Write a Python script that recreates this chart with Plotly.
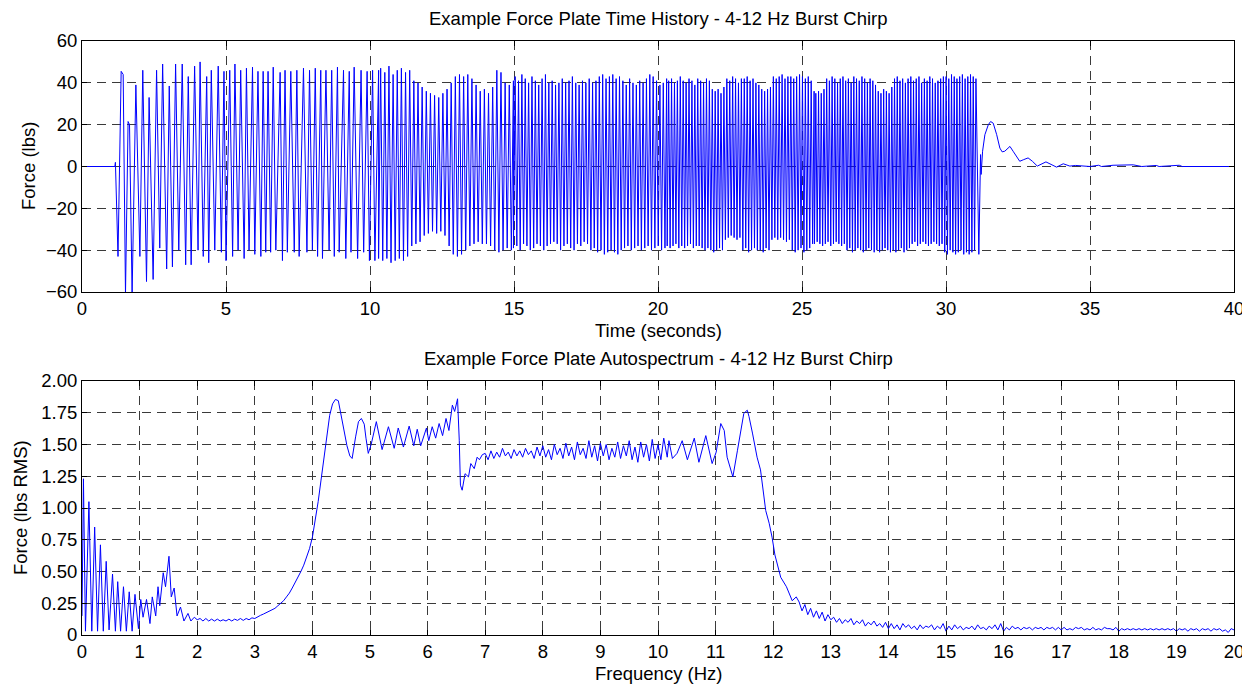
import numpy as np
import plotly.graph_objects as go

# ---------------- Top panel: force time history (s, lbs) ----------------
# quiet lead-in
t_lead = [0.0, 1.14, 1.16]
f_lead = [0, 0, 2]

# individual cycle extremes, 1.2 s - 10.3 s
t_early = [1.25, 1.36, 1.43, 1.51, 1.60, 1.65, 1.74, 1.87, 2.01, 2.11, 2.24, 2.33, 2.47, 2.59,
           2.70, 2.80, 2.94, 3.03, 3.14, 3.25, 3.36, 3.48, 3.60, 3.69, 3.79, 3.91, 4.03, 4.10,
           4.21, 4.33, 4.40, 4.49, 4.61, 4.73, 4.84, 4.93, 5.00, 5.13, 5.23, 5.31, 5.42, 5.51,
           5.63, 5.71, 5.80, 5.92, 6.00, 6.11, 6.21, 6.29, 6.38, 6.46, 6.55, 6.64, 6.73, 6.88,
           6.96, 7.05, 7.13, 7.25, 7.37, 7.46, 7.54, 7.69, 7.81, 7.90, 8.00, 8.10, 8.18, 8.29,
           8.35, 8.47, 8.58, 8.67, 8.76, 8.87, 8.93, 9.08, 9.16, 9.28, 9.34, 9.45, 9.57, 9.69,
           9.78, 9.90, 9.98, 10.09, 10.17, 10.30]
f_early = [-43, 45.5, 44, -61, 21.5, 20, -61, 39, -43, 46, -55, 33, -54, 46,
           -39, 49, -49, 38.5, -48, 49, -40, 49, -47, 43, -47, 48, -40, 50,
           -43, 43, -46, 46, -40, 48, -41, 45.5, -45, 46, -43, 49, -40, 46,
           -44, 47, -40, 47.5, -42, 45.5, -43, 45.5, -41, 45.5, -41, 47.5, -40, 45,
           -45, 46, -41, 45.5, -41, 46, -43, 47, -41, 46, -40, 47, -43, 46,
           -44, 46, -40, 46, -43, 47.5, -41, 46, -44, 45.5, -41, 47.5, -44, 46,
           -41, 45.5, -45, 46, -45, 46]

# dense part: per-cycle (trough, peak) values, cycles evenly spaced within each stretch
span_b1 = (10.37, 14.98)
troughs_b1 = [-44, -45, -44, -46, -45, -44, -45, -43, -38, -37, -36, -33, -32, -31, -32, -31, -33,
              -38, -42, -43, -42, -40, -38, -37, -36, -37, -37, -38, -40, -41, -40, -39, -40]
peaks_b1 = [47, 45, 48, 44, 46, 47, 45, 46, 41, 40, 38, 36, 35, 34, 33, 35, 37,
            40, 43, 44, 43, 44, 42, 39, 36, 37, 35, 38, 46, 45, 40, 39, 41]

span_b2 = (15.04, 20.30)
troughs_b2 = [-39, -38, -40, -37, -38, -40, -39, -37, -38, -40, -38, -37, -36, -37, -40, -38,
              -37, -39, -40, -37, -38, -36, -37, -40, -39, -41, -40, -42, -41, -40, -41, -42,
              -40, -39, -38, -40, -39, -38, -40, -39, -38, -40, -39, -38, -40, -39]
peaks_b2 = [43, 41, 44, 42, 40, 43, 41, 39, 42, 44, 40, 41, 39, 40, 42, 40,
            41, 43, 40, 39, 41, 40, 42, 40, 41, 43, 44, 42, 43, 44, 42, 43,
            41, 39, 42, 40, 39, 41, 40, 42, 44, 43, 41, 39, 40, 42]

span_c1 = (20.37, 25.42)
troughs_c1 = [-38, -39, -38, -37, -39, -38, -39, -38, -37, -39, -38, -38, -39, -40, -39,
              -40, -41, -40, -39, -40,
              -35, -34, -33, -34, -35, -34,
              -40, -39, -41, -40, -39, -40,
              -40, -41, -39, -40,
              -35, -34, -35, -34, -35, -36, -35,
              -40, -41, -40, -39, -41, -40, -39,
              -37]
peaks_c1 = [41, 42, 40, 41, 43, 41, 40, 42, 41, 39, 42, 41, 40, 42, 41,
            37, 36, 37, 35, 38,
            42, 41, 43, 42, 40, 42,
            42, 43, 41, 42, 40, 39,
            37, 36, 37, 38,
            43, 42, 43, 44, 42, 43, 43,
            42, 43, 44, 43, 42, 43, 41,
            36]

span_c2 = (25.48, 31.04)
troughs_c2 = [-37, -36, -37, -38,
              -37, -36, -38, -37, -36, -37, -38, -37,
              -40, -39, -41, -40, -39, -40, -41, -40, -39, -40, -41,
              -40, -41, -40, -39, -40, -41,
              -40, -41, -40, -39, -41, -40, -39,
              -37, -36, -38, -37, -36, -37, -38, -37, -36, -37, -38, -37,
              -41, -42, -40, -41, -42, -41, -40, -42, -41, -42, -41, -40]
peaks_c2 = [35, 36, 35, 37,
            42, 41, 43, 42, 40, 42, 43, 41, 42, 40, 43, 42, 41, 43, 42, 40, 42, 41, 39,
            36, 35, 37, 36, 35, 38,
            42, 43, 41, 42, 40, 42, 43, 41, 42, 43, 40, 42, 41, 43, 42, 40, 41, 42, 43,
            43, 42, 44, 43, 42, 43, 44, 42, 43, 44, 43, 42]

# end of burst and decay
t_tail = [31.14, 31.20, 31.22, 31.27, 31.35, 31.47, 31.55, 31.64, 31.76, 31.87, 31.95, 32.04,
          32.22, 32.33, 32.56, 32.70, 32.85, 33.00, 33.17, 33.47, 33.66, 33.84, 34.07, 34.30,
          34.50, 35.00, 35.30, 35.40, 35.80, 36.20, 36.50, 36.80, 37.30, 37.40, 38.10, 38.20,
          39.00, 40.00]
f_tail = [-42, 5.7, -3.8, 7.3, 15.2, 20.0, 21.5, 20.7, 15.2, 8.8, 7.0, 7.3,
          9.6, 7.3, 2.5, 3.3, 4.1, 2.5, 0.2, 2.2, 1.0, -0.3, 1.3, 0.2,
          0.5, 0.0, 0.6, 0.0, 0.6, 0.6, 0.8, 0.0, 0.5, 0.0, 0.6, 0.0,
          0.0, 0.0]

time_ticks = [0, 5, 10, 15, 20, 25, 30, 35, 40]
force_ticks = [-60, -40, -20, 0, 20, 40, 60]

# ---------------- Bottom panel: autospectrum (Hz, lbs RMS) ----------------
freq_low = [0, 0.025, 0.06, 0.12, 0.17, 0.22, 0.27, 0.32, 0.37, 0.42, 0.47, 0.53, 0.58, 0.62,
            0.67, 0.72, 0.77, 0.82, 0.87, 0.92, 0.98, 1.02, 1.06, 1.12, 1.18, 1.22, 1.28, 1.32,
            1.35, 1.41, 1.45, 1.51, 1.55, 1.60, 1.65, 1.71, 1.77, 1.84, 1.89, 1.95]
amp_low = [0.15, 1.23, 0.03, 1.05, 0.03, 0.85, 0.03, 0.71, 0.03, 0.58, 0.04, 0.48, 0.03, 0.42,
           0.03, 0.38, 0.03, 0.34, 0.03, 0.32, 0.05, 0.28, 0.14, 0.28, 0.09, 0.30, 0.15, 0.38,
           0.23, 0.49, 0.38, 0.62, 0.30, 0.37, 0.15, 0.22, 0.11, 0.17, 0.11, 0.14]

flat_span = (2.00, 3.00)   # 0.05 Hz steps
amp_flat = [0.12, 0.13, 0.11, 0.13, 0.11, 0.125, 0.11, 0.125, 0.11, 0.12, 0.11, 0.125, 0.11,
            0.125, 0.115, 0.13, 0.115, 0.13, 0.12, 0.135, 0.13]

rise_span = (3.05, 4.00)
amp_rise = [0.145, 0.155, 0.165, 0.175, 0.19, 0.20, 0.21, 0.23, 0.25, 0.27, 0.30, 0.33, 0.37,
            0.41, 0.45, 0.50, 0.55, 0.61, 0.68, 0.77]

freq_mid = [4.05, 4.10, 4.15, 4.20, 4.25, 4.30, 4.35, 4.40, 4.45, 4.49, 4.55, 4.60, 4.65, 4.69,
            4.75, 4.80, 4.85, 4.90, 4.93, 4.97, 5.02, 5.11, 5.21, 5.32, 5.42, 5.49, 5.58, 5.68,
            5.76, 5.82, 5.88, 5.98, 6.02, 6.08, 6.14, 6.20, 6.26, 6.32, 6.37, 6.43, 6.47, 6.52,
            6.55, 6.57, 6.60, 6.65, 6.71, 6.75, 6.81, 6.86, 6.90, 6.95]
amp_mid = [0.90, 1.05, 1.22, 1.40, 1.58, 1.73, 1.82, 1.855, 1.845, 1.745, 1.61, 1.49, 1.41, 1.39,
           1.56, 1.68, 1.705, 1.66, 1.55, 1.43, 1.50, 1.68, 1.46, 1.64, 1.47, 1.63, 1.48, 1.645,
           1.49, 1.62, 1.49, 1.63, 1.53, 1.64, 1.55, 1.665, 1.57, 1.705, 1.61, 1.81, 1.76, 1.86,
           1.53, 1.18, 1.14, 1.27, 1.245, 1.35, 1.31, 1.40, 1.38, 1.42]

plateau_span = (7.00, 10.00)
amp_plateau = [1.43, 1.38, 1.45, 1.39, 1.44, 1.40, 1.47, 1.41, 1.44, 1.39,
               1.46, 1.41, 1.45, 1.40, 1.47, 1.42, 1.45, 1.39, 1.48, 1.41,
               1.49, 1.40, 1.46, 1.38, 1.50, 1.42, 1.47, 1.39, 1.51, 1.41,
               1.48, 1.38, 1.52, 1.42, 1.47, 1.39, 1.53, 1.40, 1.49, 1.37,
               1.51, 1.41, 1.50, 1.38, 1.47, 1.40, 1.52, 1.39, 1.49, 1.41,
               1.53, 1.38, 1.48, 1.36, 1.52, 1.40, 1.50, 1.37, 1.54, 1.39,
               1.50]

freq_hi = [10.05, 10.10, 10.16, 10.19, 10.25, 10.33, 10.42, 10.51, 10.63, 10.71, 10.83, 10.94,
           11.01, 11.09, 11.15, 11.20, 11.26, 11.30, 11.38, 11.44, 11.49, 11.55, 11.58, 11.64,
           11.72, 11.78, 11.82, 11.87, 11.93, 11.98, 12.03, 12.08, 12.13, 12.23, 12.33, 12.40]
amp_hi = [1.38, 1.55, 1.40, 1.53, 1.39, 1.43, 1.53, 1.38, 1.55, 1.36, 1.57, 1.35,
          1.44, 1.665, 1.61, 1.40, 1.30, 1.245, 1.455, 1.63, 1.745, 1.77, 1.72, 1.59,
          1.40, 1.30, 1.14, 0.98, 0.88, 0.77, 0.63, 0.53, 0.455, 0.38, 0.27, 0.30]

floor_span = (12.45, 20.00)
amp_floor = [0.26, 0.19, 0.24, 0.16, 0.21, 0.14, 0.19, 0.13, 0.18, 0.11, 0.16, 0.12,
             0.14, 0.10, 0.13, 0.09, 0.12, 0.10, 0.13, 0.08, 0.11, 0.09, 0.12, 0.07, 0.10, 0.08, 0.11, 0.07, 0.09, 0.06, 0.10, 0.05,
             0.09, 0.05, 0.08, 0.04, 0.09, 0.06, 0.08, 0.05, 0.07, 0.04, 0.08, 0.05, 0.07, 0.06, 0.08, 0.04, 0.07, 0.05, 0.09, 0.03,
             0.07, 0.04, 0.08, 0.05, 0.07, 0.04, 0.06, 0.05, 0.07, 0.04, 0.08, 0.05, 0.06, 0.04, 0.07, 0.05, 0.08, 0.04, 0.09, 0.03,
             0.06, 0.04, 0.07, 0.05, 0.06, 0.04, 0.06, 0.05, 0.06, 0.04, 0.06, 0.05, 0.06, 0.04, 0.06, 0.05, 0.06, 0.04, 0.06, 0.04,
             0.06, 0.04, 0.05, 0.04, 0.06, 0.05, 0.06, 0.04, 0.05, 0.04, 0.06, 0.04, 0.05, 0.04, 0.06, 0.05, 0.05, 0.04, 0.06, 0.03,
             0.05, 0.04, 0.05, 0.04, 0.05, 0.04, 0.05, 0.04, 0.05, 0.04, 0.05, 0.04, 0.05, 0.04, 0.05, 0.04, 0.05, 0.04, 0.05, 0.03,
             0.05, 0.04, 0.05, 0.03, 0.05, 0.04, 0.05, 0.03, 0.05, 0.04, 0.05, 0.03, 0.05, 0.04, 0.05, 0.03, 0.04, 0.02, 0.05, 0.04]

freq_ticks = list(range(0, 21))
amp_ticks = [0, 0.25, 0.5, 0.75, 1.0, 1.25, 1.5, 1.75, 2.0]
amp_ticktext = ["0", "0.25", "0.50", "0.75", "1.00", "1.25", "1.50", "1.75", "2.00"]


# ---------------- assemble series ----------------
def cycles(span, troughs, peaks):
    tc = np.linspace(span[0], span[1], len(peaks))
    half = (tc[1] - tc[0]) / 2.0
    tt = np.column_stack([tc - half, tc]).ravel()
    vv = np.column_stack([troughs, peaks]).ravel()
    return list(tt), list(vv)


t_all, f_all = list(t_lead) + list(t_early), list(f_lead) + list(f_early)
for sp, tr, pk in [(span_b1, troughs_b1, peaks_b1), (span_b2, troughs_b2, peaks_b2),
                   (span_c1, troughs_c1, peaks_c1), (span_c2, troughs_c2, peaks_c2)]:
    a, b = cycles(sp, tr, pk)
    t_all += a
    f_all += b
t_all += t_tail
f_all += f_tail


def grid(span, vals):
    return list(np.linspace(span[0], span[1], len(vals)))


freq_all = (freq_low + grid(flat_span, amp_flat) + grid(rise_span, amp_rise) + freq_mid
            + grid(plateau_span, amp_plateau) + freq_hi + grid(floor_span, amp_floor))
amp_all = amp_low + amp_flat + amp_rise + amp_mid + amp_plateau + amp_hi + amp_floor

# ---------------- figure ----------------
# the page body has an 8 px margin, so the figure is drawn 8 px smaller and
# all reference pixel positions are shifted by that offset
OFF = 8
W, H = 1250 - OFF, 685 - OFF
L, R = 82 - OFF, 1234 - OFF
FONT = "Liberation Sans, Arial, Helvetica, sans-serif"
BLUE = "#0000ff"


def yfrac(ypx):
    return 1 - (ypx - OFF) / H


fig = go.Figure()
fig.add_trace(go.Scatter(x=t_all, y=f_all, mode="lines", line=dict(color=BLUE, width=1),
                         xaxis="x", yaxis="y", showlegend=False, hoverinfo="skip"))
fig.add_trace(go.Scatter(x=freq_all, y=amp_all, mode="lines", line=dict(color=BLUE, width=1),
                         xaxis="x2", yaxis="y2", showlegend=False, hoverinfo="skip"))

common = dict(showline=True, linecolor="black", linewidth=1, mirror="allticks",
              ticks="inside", ticklen=5, tickcolor="black", tickwidth=1,
              showgrid=True, gridcolor="#3a3a3a", gridwidth=1, griddash="9px,6px",
              zeroline=False, automargin=False,
              tickfont=dict(family=FONT, size=18.5, color="black"))

fig.update_layout(
    template="none",
    width=W, height=H, margin=dict(l=0, r=0, t=0, b=0, pad=0, autoexpand=False),
    paper_bgcolor="white", plot_bgcolor="white",
    font=dict(family=FONT, size=18.5, color="black"),
    xaxis=dict(domain=[L / W, R / W], range=[0, 40], tickvals=time_ticks, anchor="y", **common),
    yaxis=dict(domain=[yfrac(292), yfrac(41)], range=[-60, 60], tickvals=force_ticks,
               anchor="x", **common),
    xaxis2=dict(domain=[L / W, R / W], range=[0, 20], tickvals=freq_ticks, anchor="y2", **common),
    yaxis2=dict(domain=[yfrac(635), yfrac(381)], range=[0, 2], tickvals=amp_ticks,
                ticktext=amp_ticktext, anchor="x2", **common),
)


def label(text, xpx, ypx, angle=0):
    fig.add_annotation(text=text, x=(xpx - OFF) / W, y=yfrac(ypx), xref="paper", yref="paper",
                       showarrow=False, textangle=angle, xanchor="center", yanchor="middle",
                       font=dict(family=FONT, size=18.5, color="black"))


cx = (82 + 1234) / 2
label("Example Force Plate Time History - 4-12 Hz Burst Chirp", cx, 18)
label("Time (seconds)", cx, 330)
label("Force (lbs)", 28, 166, -90)
label("Example Force Plate Autospectrum - 4-12 Hz Burst Chirp", cx, 358)
label("Frequency (Hz)", cx, 673)
label("Force (lbs RMS)", 20, 508, -90)

fig.write_html("out.html")
